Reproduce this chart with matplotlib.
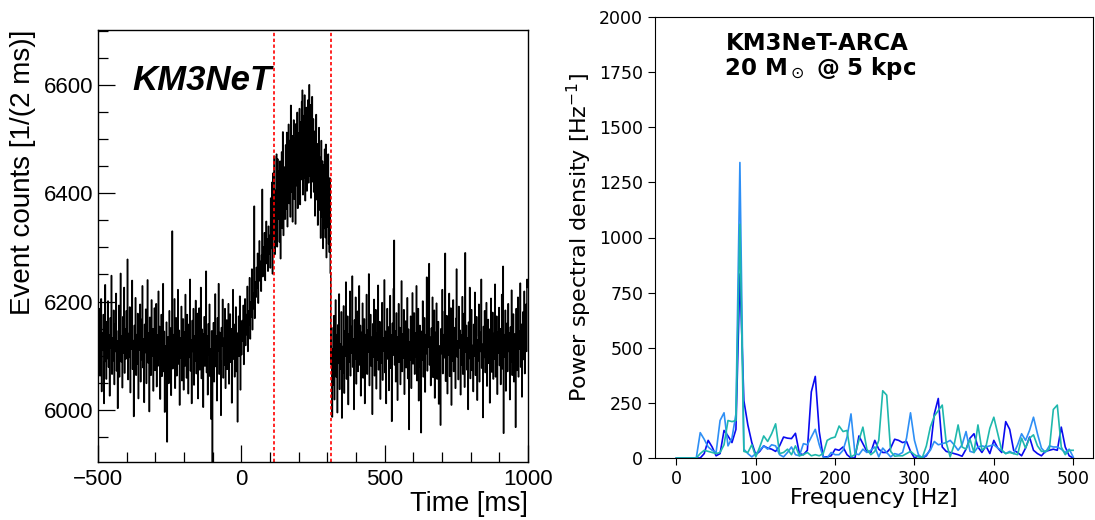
import numpy as np
import matplotlib
matplotlib.use("Agg")
import matplotlib.pyplot as plt
from matplotlib.ticker import MultipleLocator

# ---------------- Left panel data: event counts per 2 ms bin (-500 .. 1000 ms)
counts = [
    6152, 6098, 6187, 6063, 6121, 6205, 6034, 6142, 6110, 6176, 6012, 6089, 6231, 6118, 6057, 6163, 6095, 6201, 6079, 6138, 6026, 6170, 6114, 6248, 6066,
    6133, 6091, 6184, 6047, 6159, 6108, 6215, 6072, 6127, 6003, 6146, 6193, 6061, 6118, 6252, 6089, 6137, 6041, 6172, 6105, 6226, 6068, 6149, 6094, 6183,
    6120, 6278, 6056, 6141, 6097, 6190, 6032, 6167, 6113, 6239, 6075, 6128, 5988, 6156, 6102, 6207, 6064, 6139, 6085, 6178, 6021, 6146, 6111, 6195, 6052,
    6167, 6093, 6229, 6078, 6131, 6014, 6158, 6106, 6186, 6049, 6123, 6240, 6087, 6142, 5997, 6171, 6116, 6064, 6203, 6099, 6150, 6035, 6129, 6188, 6073,
    6112, 6196, 6043, 6138, 6081, 6219, 6095, 6154, 6020, 6127, 6176, 6062, 6109, 6233, 6071, 6145, 5996, 6118, 6058, 6162, 5941, 6087, 6135, 6049, 6183,
    6098, 6151, 6027, 6117, 6330, 6076, 6139, 6092, 6205, 6040, 6126, 6170, 6063, 6110, 6222, 6085, 6147, 6009, 6133, 6096, 6191, 6054, 6120, 6168, 6037,
    6144, 6081, 6213, 6102, 6059, 6176, 6119, 6030, 6158, 6097, 6241, 6072, 6129, 6012, 6165, 6108, 6187, 6046, 6136, 6090, 6202, 6067, 6115, 6178, 6021,
    6131, 6188, 6074, 6117, 6226, 6058, 6149, 6093, 6005, 6140, 6172, 6081, 6124, 6256, 6069, 6137, 6028, 6159, 6101, 6195, 6062, 6112, 5983, 6146, 5900,
    6098, 6161, 6052, 6127, 6214, 6080, 6136, 6017, 6170, 6109, 6233, 6066, 6143, 6091, 5990, 6152, 6118, 6204, 6059, 6132, 6083, 6187, 6040, 6125, 6166,
    6075, 6139, 6196, 6048, 6121, 6177, 6088, 6150, 6013, 6134, 6222, 6094, 6158, 6061, 6117, 6190, 6071, 6142, 5978, 6129, 6173, 6099, 6210, 6037, 6148,
    6102, 6165, 6127, 6193, 6084, 6151, 6205, 6119, 6176, 6139, 6228, 6108, 6183, 6157, 6244, 6131, 6199, 6172, 6260, 6148, 6215, 6187, 6376, 6169, 6236,
    6208, 6263, 6225, 6289, 6197, 6251, 6312, 6238, 6274, 6219, 6286, 6407, 6246, 6301, 6262, 6327, 6239, 6292, 6348, 6270, 6315, 6256, 6339, 6288, 6322,
    6262, 6391, 6298, 6420, 6251, 6437, 6316, 6468, 6287, 6405, 6333, 6472, 6301, 6463, 6352, 6441, 6310, 6459, 6279, 6418, 6476, 6335, 6513, 6322, 6404,
    6448, 6352, 6489, 6371, 6512, 6338, 6463, 6527, 6381, 6497, 6356, 6562, 6402, 6506, 6347, 6478, 6535, 6389, 6501, 6343, 6528, 6414, 6549, 6372, 6511,
    6418, 6556, 6379, 6531, 6425, 6569, 6590, 6397, 6543, 6428, 6581, 6386, 6520, 6558, 6404, 6537, 6572, 6419, 6600, 6432, 6563, 6391, 6530, 6578, 6421,
    6537, 6402, 6514, 6358, 6500, 6545, 6388, 6491, 6341, 6478, 6521, 6369, 6466, 6317, 6497, 6356, 6459, 6298, 6452, 6335, 6481, 6318, 6490, 6281, 6443,
    6337, 6472, 6306, 6291, 6428, 6252, 6084, 6152, 5987, 6113, 6046, 6174, 6019, 6128, 6203, 6061, 6139, 5995, 6157, 6086, 6214, 6038, 6122, 6075, 6181,
    5985, 6117, 6068, 6192, 6031, 6146, 6099, 6236, 6057, 6128, 6173, 6010, 6140, 6088, 6219, 6063, 6154, 6105, 6247, 6079, 6131, 6001, 6166, 6094, 6208,
    6048, 6137, 6182, 6071, 6115, 6229, 6083, 6156, 6026, 6143, 6101, 6197, 6059, 6124, 6168, 6012, 6139, 6090, 6213, 6066, 6148, 6107, 6251, 6045, 6120,
    6176, 6081, 6134, 5992, 6159, 6098, 6204, 6063, 6127, 6185, 6039, 6141, 6092, 6230, 6074, 6116, 6163, 6020, 6150, 6087, 6198, 6055, 6133, 6109, 6240,
    6069, 6145, 6012, 6128, 6187, 6094, 6153, 6036, 6119, 6211, 6077, 6138, 5979, 6160, 6101, 6224, 6313, 6083, 6146, 6052, 6179, 6113, 6018, 6135, 6196,
    6088, 6152, 6047, 6123, 6238, 6071, 6140, 6096, 6185, 6029, 6131, 6164, 6078, 6117, 6207, 6058, 6149, 5964, 6126, 6092, 6173, 6040, 6138, 6216, 6085,
    6121, 6179, 6066, 6142, 6098, 6229, 6054, 6133, 6187, 6017, 6110, 6156, 6079, 5958, 6145, 6092, 6201, 6061, 6127, 6170, 6033, 6139, 6104, 6245, 6072,
    6116, 6168, 6270, 6083, 6134, 6045, 6151, 6099, 6208, 6060, 6125, 6184, 6022, 6143, 6090, 6197, 6057, 6131, 6163, 6011, 6118, 6079, 5972, 6150, 6104,
    6222, 6067, 6139, 6096, 6182, 6289, 6053, 6128, 6174, 6030, 6145, 6101, 6215, 6062, 6119, 6188, 6009, 6137, 6090, 6203, 6071, 6152, 6113, 6040, 6169,
    6260, 6098, 6127, 6056, 6191, 6115, 6147, 6028, 6138, 6083, 6209, 6066, 6124, 6178, 6042, 6290, 6107, 6156, 6074, 6133, 6001, 6162, 6095, 6226, 6058,
    6141, 6185, 6073, 6119, 6034, 6158, 6100, 6217, 6064, 6136, 6172, 6018, 6129, 6091, 6195, 6052, 6143, 6108, 6241, 6077, 6121, 5986, 6154, 6097, 6183,
    6069, 6132, 6198, 6044, 6125, 6167, 6086, 6149, 6013, 6137, 6206, 6070, 6118, 6180, 6057, 6141, 6094, 6232, 6061, 6128, 6173, 6029, 6144, 6105, 6189,
    6082, 6150, 6047, 6126, 6213, 6076, 6265, 5957, 6139, 6098, 6184, 6035, 6121, 6160, 6071, 6196, 6108, 6142, 6019, 6153, 6089, 6221, 6064, 6131, 6177,
    6052, 6140, 6098, 5968, 6187, 6073, 6129, 6208, 6061, 6145, 6112, 6234, 6079, 6158, 6024, 6136, 6181, 6093, 6219, 6067, 6150, 6195, 6108, 6241, 6226,
]
t_start, bin_width = -500, 2
signal_window = [114, 313]

# ---------------- Right panel data: power spectral density, 3 realisations
freq = list(range(0, 505, 5))
psd_blue = [0, 0, 0, 0, 0, 0, 0, 20, 80, 50,
            10, 20, 125, 100, 70, 130, 835, 260, 150, 70,
            15, 30, 55, 45, 40, 30, 55, 95, 90, 88,
            112, 20, 15, 35, 300, 370, 120, 5, 5, 10,
            40, 35, 50, 15, 0, 0, 100, 65, 30, 25,
            80, 40, 25, 25, 45, 85, 80, 70, 75, 30,
            0, 10, 0, 10, 40, 200, 270, 50, 30, 25,
            20, 15, 8, 40, 90, 110, 50, 25, 55, 20,
            80, 45, 25, 165, 130, 35, 25, 10, 45, 95,
            35, 20, 10, 30, 35, 40, 35, 140, 50, 10, 0]
psd_dodger = [0, 0, 0, 0, 0, 0, 115, 85, 50, 35,
              25, 170, 205, 55, 90, 200, 1340, 40, 20, 5,
              20, 35, 55, 40, 60, 55, 15, 5, 25, 50,
              15, 10, 65, 60, 95, 130, 60, 5, 0, 25,
              15, 15, 35, 95, 200, 20, 15, 40, 25, 35,
              50, 5, 45, 25, 5, 20, 15, 25, 90, 205,
              80, 15, 0, 15, 35, 75, 60, 65, 70, 80,
              60, 35, 60, 120, 30, 25, 50, 55, 50, 55,
              60, 45, 35, 20, 30, 20, 60, 110, 80, 125,
              185, 110, 45, 25, 55, 50, 50, 40, 25, 40, 5]
psd_teal = [0, 0, 0, 0, 0, 0, 20, 35, 30, 25,
            20, 25, 60, 170, 165, 170, 1060, 30, 25, 60,
            5, 50, 100, 75, 110, 155, 20, 25, 40, 15,
            55, 10, 15, 25, 10, 15, 10, 20, 80, 90,
            95, 145, 120, 125, 5, 15, 80, 140, 40, 15,
            30, 80, 305, 285, 30, 8, 10, 10, 20, 30,
            15, 5, 3, 55, 140, 190, 215, 240, 70, 5,
            60, 150, 50, 40, 85, 25, 150, 35, 50, 135,
            185, 110, 35, 20, 25, 20, 15, 90, 45, 90,
            105, 55, 30, 30, 40, 220, 240, 50, 15, 35, 35]

series = [("psd_blue", psd_blue, "#0a0af0"),
          ("psd_dodger", psd_dodger, "#2e8ff5"),
          ("psd_teal", psd_teal, "#1fb8ad")]

# ---------------- Figure
fig = plt.figure(figsize=(10.95, 5.20), dpi=100)

# Left panel (ROOT-like style)
axL = fig.add_axes([98 / 1095, 1 - 462 / 520, 430 / 1095, 432 / 520])
n = len(counts)
edges = t_start + bin_width * np.arange(n + 1)
axL.stairs(counts, edges, color="black", linewidth=1.0, baseline=None)
for x in signal_window:
    axL.axvline(x, color="red", linestyle=(0, (2, 1.5)), linewidth=1.2)
axL.set_xlim(-500, 1000)
axL.set_ylim(5904, 6701)
lfont = "Liberation Sans"
axL.xaxis.set_major_locator(MultipleLocator(500))
axL.xaxis.set_minor_locator(MultipleLocator(100))
axL.yaxis.set_major_locator(MultipleLocator(200))
axL.yaxis.set_minor_locator(MultipleLocator(50))
axL.tick_params(which="both", direction="in", top=False, right=False)
axL.tick_params(which="major", length=12, width=0.9)
axL.tick_params(which="minor", length=7, width=0.9)
axL.tick_params(axis="x", which="major", pad=5)
axL.tick_params(axis="y", which="major", pad=3)
for lab in axL.get_xticklabels() + axL.get_yticklabels():
    lab.set_fontfamily(lfont)
    lab.set_fontsize(16)
for sp in axL.spines.values():
    sp.set_linewidth(1.0)
axL.set_xlabel("Time [ms]", fontfamily=lfont, fontsize=19.5, loc="right", labelpad=1)
axL.set_ylabel("Event counts [1/(2 ms)]", fontfamily=lfont, fontsize=20, loc="top", labelpad=6)
axL.text(0.081, 0.884, "KM3NeT", transform=axL.transAxes, fontfamily=lfont,
         fontsize=25, fontweight="bold", fontstyle="italic", ha="left", va="center")

# Right panel (matplotlib default style)
axR = fig.add_axes([655 / 1095, 1 - 458 / 520, 438 / 1095, 441 / 520])
for name, vals, col in series:
    axR.plot(freq, vals, color=col, linewidth=1.2)
axR.set_xlim(-27, 525)
axR.set_ylim(0, 2000)
axR.xaxis.set_major_locator(MultipleLocator(100))
axR.yaxis.set_major_locator(MultipleLocator(250))
axR.tick_params(labelsize=12.5, length=5)
axR.set_xlabel("Frequency [Hz]", fontsize=16, labelpad=0)
axR.set_ylabel("Power spectral density [Hz$^{-1}$]", fontsize=16, labelpad=4)
axR.text(0.37, 0.965, "KM3NeT-ARCA\n 20 M$_\\odot$ @ 5 kpc", transform=axR.transAxes,
         fontsize=16.5, fontweight="bold", ha="center", va="top", linespacing=1.0,
         multialignment="center")

fig.savefig("out.png", dpi=100)
